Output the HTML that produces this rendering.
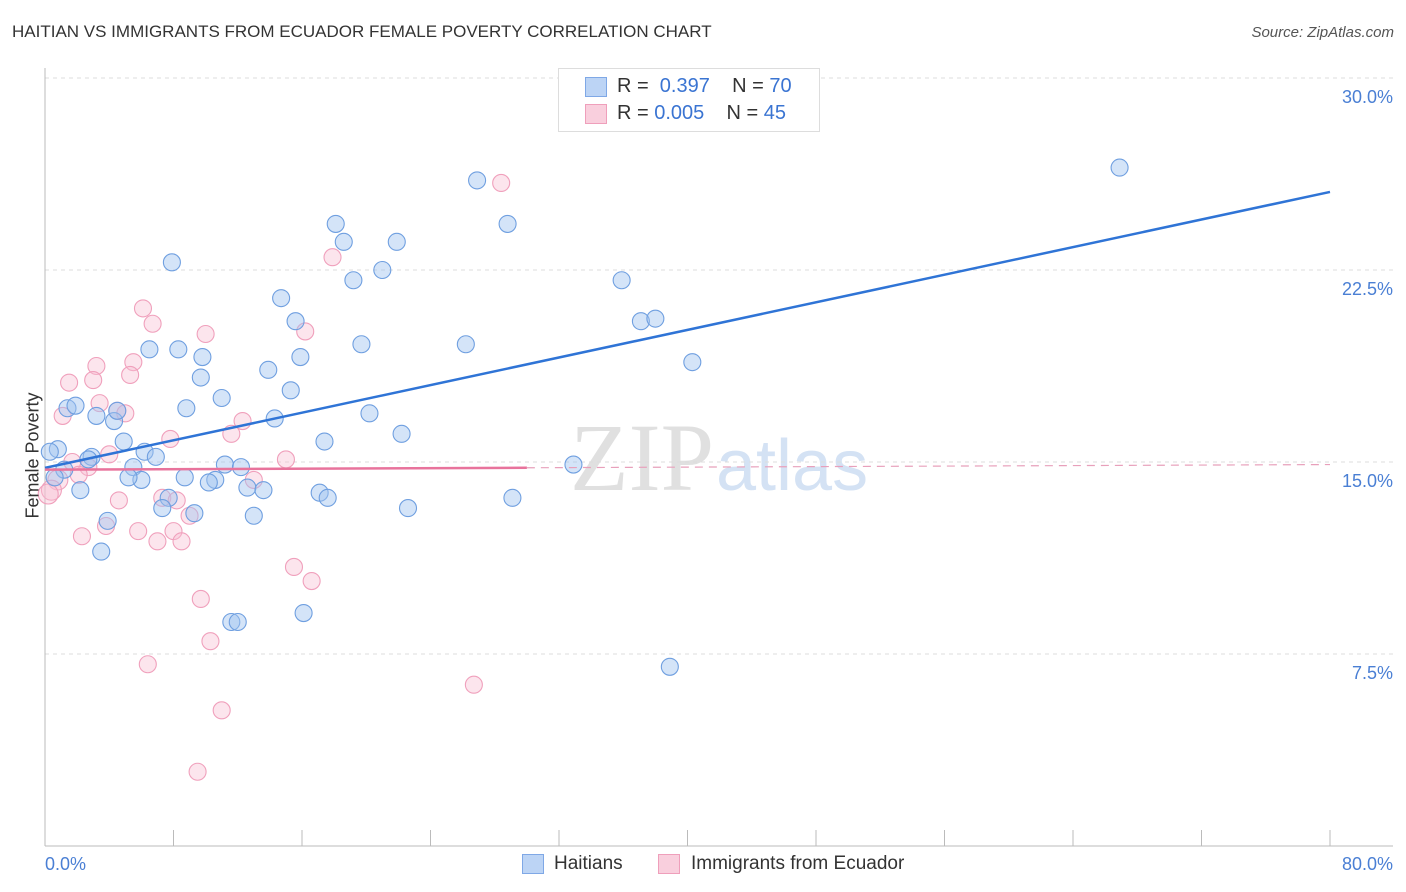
<!DOCTYPE html>
<html><head><meta charset="utf-8"><style>
body{margin:0;background:#fff;font-family:"Liberation Sans",sans-serif;}
#wrap{position:relative;width:1406px;height:892px;overflow:hidden;}
.t{position:absolute;white-space:nowrap;}
</style></head><body>
<div id="wrap">
<div class="t" style="left:12px;top:22px;font-size:17px;color:#333;">HAITIAN VS IMMIGRANTS FROM ECUADOR FEMALE POVERTY CORRELATION CHART</div>
<div class="t" style="right:12px;top:24px;font-size:15px;color:#555;font-style:italic;">Source: ZipAtlas.com</div>
<svg id="svg" width="1406" height="892" style="position:absolute;left:0;top:0">
<text x="714" y="490" text-anchor="end" font-family="Liberation Serif,serif" font-size="96" fill="#e0e0e0">ZIP</text>
<text x="716" y="490" font-family="Liberation Sans,sans-serif" font-size="72" fill="#d4e2f4">atlas</text>
</svg>
<div class="t" style="left:-30px;top:445px;font-size:18px;color:#333;transform:rotate(-90deg);">Female Poverty</div>
<div style="position:absolute;left:558px;top:68px;width:260px;height:62px;border:1px solid #ddd;background:#fff;font-size:20px;color:#333;">
<div style="position:absolute;left:26px;top:8px;width:20px;height:18px;background:#bcd4f5;border:1px solid #7fa8e6;"></div>
<div class="t" style="left:58px;top:6px;">R = <span style="color:#3a74d2">&nbsp;0.397</span>&nbsp;&nbsp;&nbsp; N = <span style="color:#3a74d2">70</span></div>
<div style="position:absolute;left:26px;top:35px;width:20px;height:18px;background:#f9cfdd;border:1px solid #ef9fbb;"></div>
<div class="t" style="left:58px;top:33px;">R = <span style="color:#3a74d2">0.005</span>&nbsp;&nbsp;&nbsp; N = <span style="color:#3a74d2">45</span></div>
</div>
<div style="position:absolute;left:0;top:850px;width:1406px;height:30px;font-size:19px;color:#333;">
<div style="position:absolute;left:522px;top:4px;width:20px;height:18px;background:#bcd4f5;border:1px solid #7fa8e6;"></div>
<div class="t" style="left:554px;top:3px;">Haitians</div>
<div style="position:absolute;left:658px;top:4px;width:20px;height:18px;background:#f9cfdd;border:1px solid #ef9fbb;"></div>
<div class="t" style="left:691px;top:3px;">Immigrants from Ecuador</div>
</div>
</div>
<script>
const blueX=[66.9,26.9,28.8,18.1,18.6,21.9,7.9,21.0,19.2,35.9,14.7,15.6,37.1,38.0,6.5,8.3,26.2,19.7,9.8,15.9,40.3,13.9,9.7,15.3,11.0,8.8,1.4,1.9,3.2,4.3,4.5,20.2,14.3,22.2,4.9,17.4,0.8,6.2,6.9,2.9,2.7,0.3,1.2,5.5,0.6,6.0,8.7,5.2,11.2,12.2,32.9,10.6,10.2,12.6,13.6,2.2,17.1,17.6,7.7,29.1,7.3,9.3,22.6,3.9,13.0,3.5,16.1,11.6,12.0,38.9];
const blueY=[26.5,26.0,24.3,24.3,23.6,23.6,22.8,22.5,22.1,22.1,21.4,20.5,20.5,20.6,19.4,19.4,19.6,19.6,19.1,19.1,18.9,18.6,18.3,17.8,17.5,17.1,17.1,17.2,16.8,16.6,17.0,16.9,16.7,16.1,15.8,15.8,15.5,15.4,15.2,15.2,15.1,15.4,14.7,14.8,14.4,14.3,14.4,14.4,14.9,14.8,14.9,14.3,14.2,14.0,13.9,13.9,13.8,13.6,13.6,13.6,13.2,13.0,13.2,12.7,12.9,11.5,9.1,8.75,8.75,7.0];
const pinkX=[28.4,17.9,6.1,6.7,10.0,16.2,3.2,5.5,5.3,1.5,3.0,3.4,4.5,5.0,1.1,12.3,7.8,11.6,4.0,15.0,1.7,2.7,2.1,13.0,0.8,0.4,0.2,7.3,8.2,4.6,9.0,3.8,5.8,8.0,2.3,7.0,8.5,15.5,16.6,9.7,10.3,6.4,26.7,11.0,9.5];
const pinkY=[25.9,23.0,21.0,20.4,20.0,20.1,18.75,18.9,18.4,18.1,18.2,17.3,17.0,16.9,16.8,16.6,15.9,16.1,15.3,15.1,15.0,14.8,14.5,14.3,14.3,13.9,13.75,13.6,13.5,13.5,12.9,12.5,12.3,12.3,12.1,11.9,11.9,10.9,10.35,9.65,8.0,7.1,6.3,5.3,2.9];
const yTicks=[7.5,15.0,22.5,30.0];
const yTickLabels=["7.5%","15.0%","22.5%","30.0%"];
const xTicks=[8,16,24,32,40,48,56,64,72,80];
const blueTrend=[14.77,25.55];
const pinkTrend=[14.7,14.9];
const xMin=0,xMax=80;
const X=v=>45+(v-xMin)/(xMax-xMin)*1285;
const Y=v=>846-v*25.6;
const svg=document.getElementById('svg');
const NS='http://www.w3.org/2000/svg';
function mk(tag,attrs,name){const e=document.createElementNS(NS,tag);for(const k in attrs)e.setAttribute(k,attrs[k]);


svg.appendChild(e);return e;}
yTicks.forEach((t,i)=>{
 mk('line',{x1:45,x2:1393,y1:Y(t),y2:Y(t),stroke:'#ddd','stroke-dasharray':'4,4'},'y-gridline');
 const tx=mk('text',{x:1393,y:Y(t)+25,'text-anchor':'end','font-size':18,fill:'#4a7fd4','font-family':'Liberation Sans,sans-serif'},'y-tick-label');
 tx.textContent=yTickLabels[i];
});
mk('line',{x1:45,x2:1393,y1:78,y2:78,stroke:'#ddd','stroke-dasharray':'4,4'},'top-gridline');
mk('line',{x1:45,x2:45,y1:68,y2:846,stroke:'#bbb'},'y-axis');
mk('line',{x1:45,x2:1393,y1:846,y2:846,stroke:'#bbb'},'x-axis');
xTicks.forEach(v=>mk('line',{x1:X(v),x2:X(v),y1:830,y2:846,stroke:'#bbb'},'x-tick'));
let t=mk('text',{x:45,y:870,'font-size':18,fill:'#4a7fd4','font-family':'Liberation Sans,sans-serif'},'x-tick-label-min');t.textContent='0.0%';
t=mk('text',{x:1393,y:870,'text-anchor':'end','font-size':18,fill:'#4a7fd4','font-family':'Liberation Sans,sans-serif'},'x-tick-label-max');t.textContent='80.0%';
pinkX.forEach((x,i)=>mk('circle',{cx:X(x),cy:Y(pinkY[i]),r:x<1?10:8.5,fill:'rgba(248,190,210,0.4)',stroke:'#f0a0bc','stroke-width':1.1},'ecuador-point'));
blueX.forEach((x,i)=>mk('circle',{cx:X(x),cy:Y(blueY[i]),r:8.5,fill:'rgba(160,195,240,0.45)',stroke:'#6f9fe0','stroke-width':1.1},'haitian-point'));
mk('line',{x1:X(0),y1:Y(blueTrend[0]),x2:X(80),y2:Y(blueTrend[1]),stroke:'#2f74d6','stroke-width':2.5},'haitian-trendline');
const pm=x=>pinkTrend[0]+(pinkTrend[1]-pinkTrend[0])*x/80;
mk('line',{x1:X(0),y1:Y(pm(0)),x2:X(30),y2:Y(pm(30)),stroke:'#e8739c','stroke-width':2.5},'ecuador-trendline');
mk('line',{x1:X(30),y1:Y(pm(30)),x2:X(80),y2:Y(pm(80)),stroke:'#e8a0bb','stroke-width':1.2,'stroke-dasharray':'8,6'},'ecuador-trendline-extension');
</script>
</body></html>
